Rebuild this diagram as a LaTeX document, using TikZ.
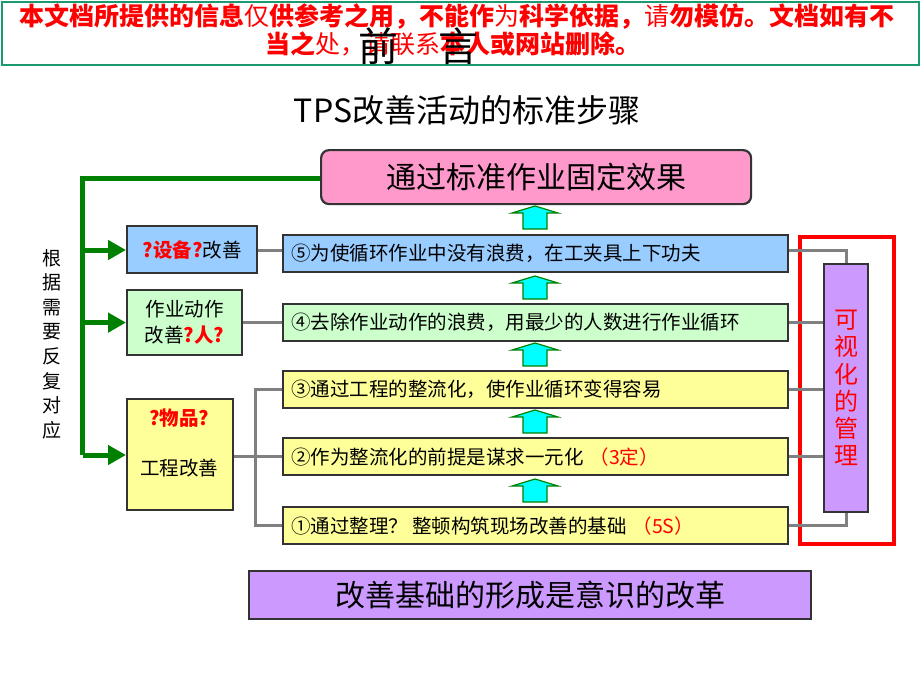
\documentclass[tikz,border=0pt]{standalone}
\usepackage{fontspec}
\setmainfont{Noto Sans CJK SC}
\usetikzlibrary{arrows.meta}
\definecolor{bannerline}{HTML}{1A9A6E}
\definecolor{pinkf}{HTML}{FF99CC}
\definecolor{bluef}{HTML}{99CCFF}
\definecolor{greenf}{HTML}{CCFFCC}
\definecolor{yellowf}{HTML}{FFFF99}
\definecolor{purplef}{HTML}{CC99FF}
\definecolor{edgegray}{HTML}{333333}
\definecolor{linkgray}{HTML}{808080}
\definecolor{dgreen}{HTML}{008000}
\definecolor{redt}{HTML}{FF0000}
\definecolor{cyanf}{HTML}{00FFFF}
\newcommand\fsz[2]{\fontsize{#1}{#2}\selectfont}
\begin{document}
\begin{tikzpicture}[x=1pt,y=-1pt,
  boxe/.style={draw=edgegray, line width=2.2pt, inner sep=0pt},
  stepbox/.style={boxe, anchor=north west, minimum width=505pt, minimum height=37pt,
    text width=489pt, inner xsep=8pt, align=left, font=\fsz{19.5}{22}},
  sidebox/.style={boxe, anchor=north west, align=center, font=\fsz{19.5}{26}},
  link/.style={draw=linkgray, line width=3pt},
  greenline/.style={draw=dgreen, line width=5pt},
  greenarr/.style={greenline, -{Triangle[length=18pt,width=19pt]}},
  uparr/.style={draw=dgreen, fill=cyanf, line width=1.2pt, line join=miter}
]
\useasboundingbox (0,0) rectangle (920,690);

% banner
\node[draw=bannerline, line width=2pt, minimum width=917pt, minimum height=63pt,
  anchor=north west, inner sep=0pt] (banner) at (1,1) {};
\node[text=redt, font=\fsz{25}{26}\bfseries, inner sep=0pt] (bl1) at (457,17)
  {本文档所提供的信息{\mdseries 仅}供参考之用，不能作{\mdseries 为}科学依据，{\mdseries 请}勿模仿。文档如有不};
\node[text=redt, font=\fsz{25}{26}\bfseries, inner sep=0pt] (bl2) at (453,44)
  {当之{\mdseries 处，请联系}本人或网站删除。};
\node[font=\fsz{40}{40}, inner sep=0pt] (qian) at (378,46) {前};
\node[font=\fsz{40}{40}, inner sep=0pt] (yan) at (458,46) {言};

% title
\node[font=\fsz{32}{32}, inner sep=0pt] (title) at (467,110) {TPS改善活动的标准步骤};

% goal box
\node[boxe, fill=pinkf, rounded corners=8pt, minimum width=430pt, minimum height=54pt,
  anchor=north west, font=\fsz{30}{30}] (goal) at (320,149) {通过标准作业固定效果};

% steps
\node[stepbox, fill=bluef]   (s5) at (282,234) {⑤为使循环作业中没有浪费，在工夹具上下功夫};
\node[stepbox, fill=greenf]  (s4) at (282,303) {④去除作业动作的浪费，用最少的人数进行作业循环};
\node[stepbox, fill=yellowf] (s3) at (282,370) {③通过工程的整流化，使作业循环变得容易};
\node[stepbox, fill=yellowf] (s2) at (282,437) {②作为整流化的前提是谋求一元化\hspace{6pt}\textcolor{redt}{（3定）}};
\node[stepbox, fill=yellowf] (s1) at (282,506) {①通过整理？\hspace{4pt}整顿构筑现场改善的基础\hspace{6pt}\textcolor{redt}{（5S）}};

% block arrows
\foreach \yb in {229,299,366,433,502}{
  \draw[uparr] (523,\yb) -- (523,\yb-16) -- (512,\yb-16) -- (535,\yb-23)
     -- (558,\yb-16) -- (547,\yb-16) -- (547,\yb) -- cycle;
}

% side boxes
\node[sidebox, fill=bluef, minimum width=130pt, minimum height=47pt] (eq) at (126,225)
  {\textcolor{redt}{\bfseries ?设备?}改善};
\node[sidebox, fill=greenf, minimum width=115pt, minimum height=65pt] (op) at (126,289)
  {作业动作\\改善\textcolor{redt}{\bfseries ?人?}};
\node[sidebox, fill=yellowf, minimum width=106pt, minimum height=111pt] (wp) at (126,398) {};
\node[font=\fsz{19.5}{22}\bfseries, text=redt, inner sep=0pt] (wpa) at (179,418) {?物品?};
\node[font=\fsz{19.5}{22}, inner sep=0pt] (wpb) at (179,468) {工程改善};

% left vertical text
\node[font=\fsz{19}{24.6}, align=center, inner sep=0pt] (repeat) at (52,344)
  {根\\据\\需\\要\\反\\复\\对\\应};

% green feedback lines
\coordinate (gtop) at (82.5,178.5);
\coordinate (gbot) at (82.5,455);
\draw[greenline] (goal.west |- gtop) -- (gtop) -- (gbot);
\draw[greenarr] (gtop |- 0,250) -- (eq.west |- 0,250);
\draw[greenarr] (gtop |- op.west) -- (op.west);
\draw[greenarr] (gbot) -- (wp.west |- gbot);

% gray links left
\draw[link] (eq.east |- 0,250) -- (s5.west |- 0,250);
\draw[link] (op.east) -- (op.east -| s4.west);
\draw[link] (wp.east |- s2.west) -- (s2.west);
\coordinate (jl) at (255,0);
\draw[link] (s3.west) -- (jl |- s3.west) -- (jl |- s1.west) -- (s1.west);

% visual management
\node[draw=redt, line width=3.5pt, minimum width=94pt, minimum height=307pt,
  anchor=north west, inner sep=0pt] (frame) at (798,235) {};
\node[boxe, fill=purplef, minimum width=44pt, minimum height=248pt, anchor=north west,
  align=center, text=redt, font=\fsz{24}{27.2}] (vm) at (823,263) {可\\视\\化\\的\\管\\理};
\draw[link] (s5.east |- 0,250) -| (vm.north);
\draw[link] (s4.east) -- (s4.east -| vm.west);
\draw[link] (s3.east) -- (s3.east -| vm.west);
\draw[link] (s2.east) -- (s2.east -| vm.west);
\draw[link] (s1.east) -| (vm.south);

% base box
\node[boxe, fill=purplef, minimum width=562pt, minimum height=48pt, anchor=north west,
  font=\fsz{30}{30}] (base) at (248,570) {改善基础的形成是意识的改革};
\end{tikzpicture}
\end{document}
